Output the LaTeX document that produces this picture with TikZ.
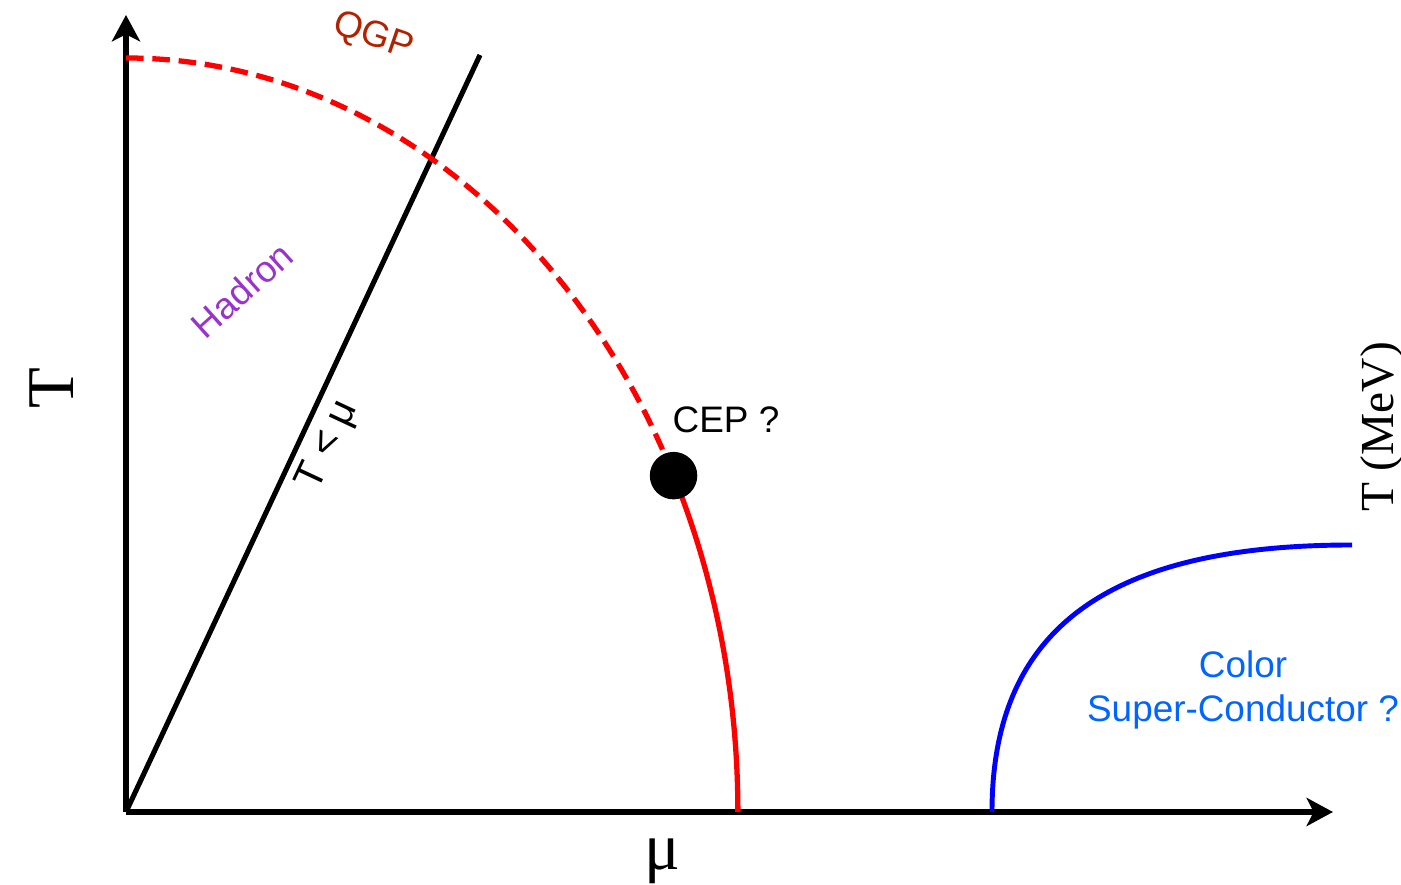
\documentclass[tikz,border=0pt]{standalone}
\usepackage{fontspec}
\setmainfont{Liberation Serif}
\setsansfont{Liberation Sans}
\usetikzlibrary{positioning, arrows.meta, calc}
\definecolor{qgpred}{RGB}{178, 34, 0}
\definecolor{hadpurple}{RGB}{153, 51, 204}
\definecolor{scblue}{RGB}{0, 102, 255}

\begin{document}
\begin{tikzpicture}[x=0.02cm, y=0.02cm,
                axis/.style={line width=2.9pt,
                    -{Stealth[length=15pt, width=16pt, inset=4pt]}},
                phase/.style={line width=3pt, red},
                lbl/.style={font=\sffamily\fontsize{21}{25}\selectfont},
                big/.style={font=\fontsize{38}{42}\selectfont}
            ]
            \useasboundingbox (0,0) rectangle (1401,885);

            % Axes
            \coordinate (origin) at (126,73);
            \coordinate (ytop) at (126,870);
            \coordinate (xtip) at (1333,73);
            \draw[axis] (origin) -- (ytop);
            \draw[axis] (origin) -- (xtip);
            \node[big, rotate=90] (tlabel) at (52,497) {T};
            \node[big] (mulabel) at (662,24) {μ};
            \node[font=\fontsize{27}{30}\selectfont, rotate=90] (tmev)
                at (1382,458) {T (MeV)};

            % T < mu line
            \coordinate (lineend) at (480,830);
            \draw[line width=2.9pt] (origin) -- (lineend)
                node[lbl, font=\sffamily\fontsize{23}{25}\selectfont,
                     sloped, below=1pt, pos=0.5] (tmu) {T < μ};

            % Phase boundary
            \coordinate (qgptop) at (126,827);
            \coordinate (cep) at ($(origin)+(26.5:12.24cm and 15.08cm)$);
            \draw[phase, dash pattern=on 10pt off 5pt] (qgptop)
                arc[start angle=90, end angle=26.5,
                    x radius=12.24cm, y radius=15.08cm];
            \draw[phase] (cep)
                arc[start angle=26.5, end angle=0,
                    x radius=12.24cm, y radius=15.08cm] coordinate (redfoot);
            \node[circle, fill, minimum size=0.95cm, inner sep=0pt] (cepdot)
                at (cep) {};
            \node[lbl] (ceplbl) at (726,465) {CEP ?};

            % Phases
            \node[lbl, text=qgpred, rotate=-19] (qgp) at (373,848) {QGP};
            \node[lbl, text=hadpurple, rotate=42] (hadron) at (242,595) {Hadron};

            % Color super-conductor
            \coordinate (scstart) at (992,73);
            \coordinate (scend) at (1352,340);
            \draw[line width=2.8pt, blue] (scstart)
                .. controls +(0,192) and +(-232,0) .. (scend);
            \node[lbl, text=scblue, align=center] (sclbl) at (1243,195)
                {Color\\Super-Conductor ?};

            \end{tikzpicture}
\end{document}
